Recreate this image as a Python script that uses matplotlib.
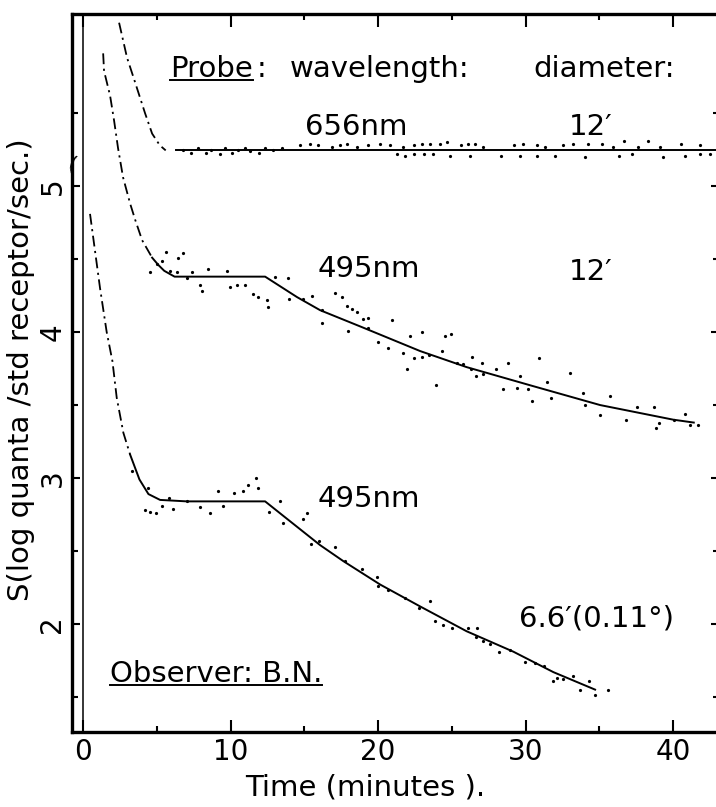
import matplotlib
matplotlib.use("Agg")
import matplotlib.pyplot as plt
from matplotlib.lines import Line2D
from matplotlib.ticker import FixedLocator

# --- 656 nm, 12' probe (upper curve) ---
top_dd_t = [2.44, 2.98, 3.53, 4.2, 4.68, 5.2, 5.6]
top_dd_s = [6.12, 5.88, 5.71, 5.50, 5.36, 5.28, 5.245]
top_fit_t = [6.3, 42.9]
top_fit_s = [5.25, 5.25]
top_dot_t = [6.8, 7.3, 7.8, 8.3, 8.7, 9.3, 9.6, 10.1, 10.5, 11.0, 11.3, 11.9, 12.3, 12.9, 13.5,
             14.7, 15.4, 15.9, 16.9, 17.4, 17.9, 18.6, 19.3, 20.1, 20.8, 21.7, 22.4, 23.0,
             21.3, 21.8, 22.4,
             23.5, 24.2, 24.7, 25.6, 26.1, 26.6, 27.1, 29.2, 29.8, 30.8, 31.3, 32.5, 33.2, 34.2,
             35.2, 35.9, 36.7, 37.6, 38.3, 39.1, 40.5, 41.8,
             23.1, 23.7, 24.9, 26.2, 28.3, 29.6, 30.8, 32.0, 34.0, 36.3, 37.2, 39.3, 40.8, 41.8, 42.5]
top_dot_s = [5.25, 5.23, 5.26, 5.23, 5.25, 5.22, 5.26, 5.23, 5.25, 5.26, 5.24, 5.23, 5.26, 5.25, 5.26,
             5.28, 5.29, 5.28, 5.27, 5.28, 5.29, 5.27, 5.28, 5.29, 5.28, 5.27, 5.28, 5.29,
             5.22, 5.21, 5.22,
             5.29, 5.29, 5.30, 5.28, 5.29, 5.29, 5.27, 5.28, 5.29, 5.28, 5.27, 5.28, 5.29, 5.29,
             5.29, 5.27, 5.31, 5.27, 5.31, 5.27, 5.29, 5.28,
             5.22, 5.22, 5.21, 5.21, 5.21, 5.21, 5.21, 5.21, 5.20, 5.21, 5.22, 5.20, 5.21, 5.22, 5.22]

# --- 495 nm, 12' probe (middle curve) ---
mid_dd_t = [1.36, 1.42, 1.83, 2.1, 2.37, 2.71, 3.19, 3.53, 4.0, 4.68]
mid_dd_s = [5.91, 5.79, 5.62, 5.45, 5.26, 5.06, 4.88, 4.77, 4.63, 4.51]
mid_fit_t = [4.68, 5.1, 5.5, 6.2, 12.34, 14.5, 16.07, 19.0, 22.85, 26.0, 30.5, 35.05, 40.0, 41.4]
mid_fit_s = [4.51, 4.46, 4.42, 4.38, 4.38, 4.24, 4.15, 4.03, 3.87, 3.76, 3.63, 3.50, 3.40, 3.38]
mid_dot_t = [4.54, 5.0, 5.33, 5.63, 6.8, 6.46, 5.9, 6.35, 7.03, 7.37, 7.93, 8.05, 8.5, 9.74, 9.97,
             10.42, 10.98, 11.55, 11.89, 12.45, 12.56, 13.02, 13.92, 13.99, 14.94, 15.5, 16.18, 16.18,
             17.08, 17.54, 17.88, 18.2, 18.56, 19.0, 19.34, 19.34, 17.99, 20.02, 20.93, 20.7, 21.72,
             22.17, 22.4, 22.96, 24.54, 24.93, 21.94, 22.96, 23.48, 23.93, 24.32, 25.33, 25.78, 26.35,
             26.28, 26.64, 27.03, 27.1, 28.0, 28.5, 28.83, 29.44, 29.63, 30.15, 30.42, 30.94, 31.48,
             31.73, 33.02, 33.92, 34.03, 35.05, 35.73, 36.81, 37.54, 38.67, 38.85, 39.07, 40.07, 40.81,
             41.15, 41.68]
mid_dot_s = [4.41, 4.47, 4.49, 4.55, 4.54, 4.51, 4.42, 4.41, 4.37, 4.41, 4.32, 4.28, 4.43, 4.42, 4.31,
             4.32, 4.32, 4.26, 4.24, 4.22, 4.17, 4.38, 4.37, 4.23, 4.23, 4.25, 4.15, 4.06,
             4.27, 4.24, 4.18, 4.16, 4.14, 4.09, 4.10, 4.03, 4.01, 3.93, 4.08, 3.89, 3.86,
             3.97, 3.82, 4.00, 3.97, 3.99, 3.75, 3.83, 3.84, 3.64, 3.87, 3.79, 3.78, 3.83,
             3.75, 3.70, 3.79, 3.71, 3.75, 3.61, 3.79, 3.62, 3.70, 3.61, 3.53, 3.82, 3.66,
             3.55, 3.72, 3.58, 3.50, 3.43, 3.56, 3.40, 3.49, 3.49, 3.34, 3.38, 3.40, 3.44,
             3.36, 3.36]

# --- 495 nm, 6.6' probe (lower curve) ---
low_dd_t = [0.47, 1.15, 1.6, 1.99, 2.28, 2.73, 3.19]
low_dd_s = [4.81, 4.30, 4.00, 3.80, 3.55, 3.31, 3.16]
low_fit_t = [3.19, 3.82, 4.43, 5.22, 7.03, 12.34, 13.58, 16.07, 17.65, 20.14, 22.85, 26.0, 29.17, 31.88, 34.71]
low_fit_s = [3.16, 2.99, 2.89, 2.85, 2.84, 2.84, 2.74, 2.54, 2.43, 2.27, 2.12, 1.95, 1.81, 1.67, 1.55]
low_dot_t = [3.3, 4.43, 4.2, 4.54, 4.95, 5.33, 5.85, 6.08, 7.03, 7.93, 8.61, 9.17, 9.51, 10.24, 10.87,
             11.21, 11.73, 11.89, 12.63, 13.36, 13.58, 14.89, 15.16, 15.43, 16.02, 17.08, 17.76, 18.89,
             19.91, 20.02, 20.7, 21.83, 22.8, 23.53, 23.86, 24.43, 25.0, 26.12, 26.69, 26.64, 27.1,
             27.59, 28.22, 28.95, 29.97, 30.64, 31.25, 31.88, 32.11, 32.56, 33.24, 33.69, 34.33, 34.71,
             35.61]
low_dot_s = [3.05, 2.93, 2.78, 2.77, 2.76, 2.81, 2.86, 2.79, 2.84, 2.80, 2.76, 2.91, 2.81, 2.90, 2.91,
             2.95, 3.00, 2.93, 2.77, 2.84, 2.69, 2.72, 2.76, 2.55, 2.57, 2.53, 2.43, 2.38,
             2.32, 2.26, 2.23, 2.18, 2.11, 2.16, 2.02, 1.99, 1.97, 1.97, 1.97, 1.91, 1.88,
             1.86, 1.81, 1.82, 1.74, 1.73, 1.71, 1.61, 1.63, 1.62, 1.64, 1.55, 1.61, 1.51,
             1.55]

x_major = [0, 10, 20, 30, 40]
x_minor = [5, 15, 25, 35]
y_major = [2, 3, 4, 5]
y_minor = [1.5, 2.5, 3.5, 4.5, 5.5]

fig = plt.figure(figsize=(7.16, 8.07), dpi=100)
ax = fig.add_axes([0.1006, 0.093, 0.9034, 0.8897])
ax.set_xlim(-0.75, 43.1)
ax.set_ylim(1.26, 6.18)

dd = (0, (6, 2.5, 1.2, 2.5))
for t, s in [(top_dd_t, top_dd_s), (mid_dd_t, mid_dd_s), (low_dd_t, low_dd_s)]:
    ax.plot(t, s, color='black', lw=1.3, linestyle=dd)
for t, s in [(top_fit_t, top_fit_s), (mid_fit_t, mid_fit_s), (low_fit_t, low_fit_s)]:
    ax.plot(t, s, color='black', lw=1.4)
for t, s in [(top_dot_t, top_dot_s), (mid_dot_t, mid_dot_s), (low_dot_t, low_dot_s)]:
    ax.plot(t, s, 'o', color='black', ms=2.3, mew=0)

# time zero line
ax.axvline(0, color='black', lw=1.1)

for side in ['left', 'top', 'bottom', 'right']:
    ax.spines[side].set_linewidth(2.4)

ax.xaxis.set_major_locator(FixedLocator(x_major))
ax.xaxis.set_minor_locator(FixedLocator(x_minor))
ax.yaxis.set_major_locator(FixedLocator(y_major))
ax.yaxis.set_minor_locator(FixedLocator(y_minor))
ax.tick_params(axis='x', which='both', direction='in', top=True, width=1.5, labelsize=20, pad=4)
ax.tick_params(axis='x', which='major', length=9)
ax.tick_params(axis='x', which='minor', length=4)
ax.tick_params(axis='y', which='both', direction='in', right=True, width=1.5, labelsize=20, pad=4)
ax.tick_params(axis='y', which='major', length=6)
ax.tick_params(axis='y', which='minor', length=4.5)
for lab in ax.get_yticklabels():
    lab.set_rotation(90)
    lab.set_va('center')

ax.set_xlabel("Time (minutes ).", fontsize=21)
ax.xaxis.set_label_coords(0.453, -0.058)
ax.set_ylabel("S(log quanta /std receptor/sec.)", fontsize=21)
ax.yaxis.set_label_coords(-0.058, 0.504)

# axis break mark near 5
ax.text(-0.75, 5.14, "(", fontsize=16, ha='center', va='center', rotation=-15)

fs = 21
t_probe = ax.text(5.9, 5.75, "Probe", fontsize=fs, va='baseline')
ax.text(11.75, 5.75, ":", fontsize=fs, va='baseline')
ax.text(14.0, 5.75, "wavelength:", fontsize=fs, va='baseline')
ax.text(30.5, 5.75, "diameter:", fontsize=fs, va='baseline')
ax.text(15.05, 5.35, "656nm", fontsize=fs, va='baseline')
ax.text(32.9, 5.35, "12\u2032", fontsize=fs, va='baseline')
ax.text(15.9, 4.38, "495nm", fontsize=fs, va='baseline')
ax.text(32.9, 4.36, "12\u2032", fontsize=fs, va='baseline')
ax.text(15.9, 2.80, "495nm", fontsize=fs, va='baseline')
ax.text(29.56, 1.98, "6.6\u2032(0.11\u00b0)", fontsize=fs, va='baseline')
t_obs = ax.text(1.83, 1.60, "Observer: B.N.", fontsize=fs, va='baseline')

# underlines
fig.canvas.draw()
r = fig.canvas.get_renderer()
for t in [t_probe, t_obs]:
    bb = t.get_window_extent(r)
    base = ax.transData.transform(t.get_position())[1] - 3
    (x0, y0) = fig.transFigure.inverted().transform((bb.x0, base))
    (x1, _) = fig.transFigure.inverted().transform((bb.x1, base))
    fig.add_artist(Line2D([x0, x1], [y0, y0], color='black', lw=1.4, transform=fig.transFigure))

fig.savefig("out.png", dpi=100)
